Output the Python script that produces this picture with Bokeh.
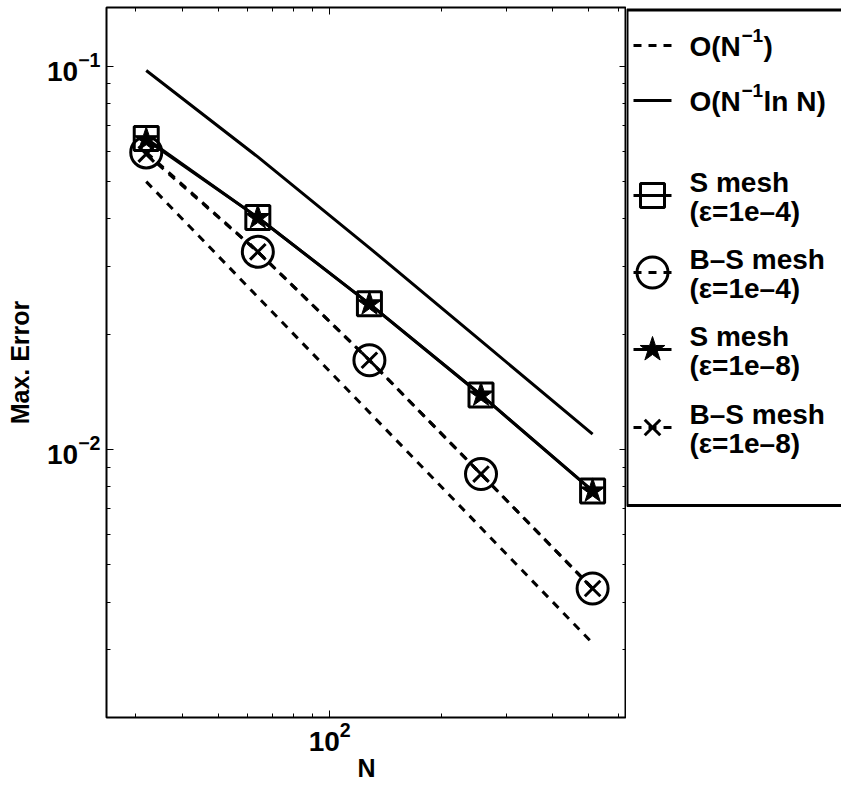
from bokeh.plotting import figure
from bokeh.models import Range1d, FixedTicker, LogAxis, LogTickFormatter
from bokeh.layouts import row
from bokeh.embed import file_html
from bokeh.resources import INLINE
from bokeh.core.properties import value

# ---------------- data ----------------
N = [32, 64, 128, 256, 512]
order_n1 = [0.05, 0.025, 0.0125, 0.00625, 0.003125]
order_nlnn = [0.0975, 0.0580, 0.0336, 0.0192, 0.01097]
s_mesh_e4 = [0.0648, 0.0403, 0.0240, 0.01388, 0.0078]
bs_mesh_e4 = [0.0596, 0.0328, 0.0171, 0.00863, 0.00434]
s_mesh_e8 = [0.0643, 0.0403, 0.0240, 0.01388, 0.0078]
bs_mesh_e8 = [0.0590, 0.0328, 0.0171, 0.00863, 0.00434]

x_major = [100]
x_minor = [30, 40, 50, 60, 70, 80, 90, 200, 300, 400, 500, 600]
y_major = [0.01, 0.1]
y_minor = [0.003, 0.004, 0.005, 0.006, 0.007, 0.008, 0.009,
           0.02, 0.03, 0.04, 0.05, 0.06, 0.07, 0.08, 0.09]

x_title = "N"
y_title = "Max. Error"

legend_lines = [
    ["O(N", "ln N)"],
    ["S mesh", "(\u03b5=1e\u20134)"],
    ["B\u2013S mesh", "(\u03b5=1e\u20134)"],
    ["S mesh", "(\u03b5=1e\u20138)"],
    ["B\u2013S mesh", "(\u03b5=1e\u20138)"],
]

FONT = "Liberation Sans"
DASH = "8 7"
X_LO, X_HI = 25, 632
Y_LO, Y_HI = 0.002, 0.1423

# ---------------- main plot ----------------
p1 = figure(x_axis_type="log", y_axis_type="log",
            x_range=Range1d(X_LO, X_HI), y_range=Range1d(Y_LO, Y_HI),
            frame_width=520, frame_height=710,
            min_border_left=106, min_border_right=0,
            min_border_top=7, min_border_bottom=69,
            toolbar_location=None, output_backend="svg",
            background_fill_color="white", border_fill_color="white",
            outline_line_color="black", outline_line_width=2)
p1.grid.visible = False


def style_axis(ax, ticks, minor, labels=True):
    ax.ticker = FixedTicker(ticks=ticks, minor_ticks=minor)
    ax.axis_line_color = None
    ax.major_tick_in = 7
    ax.major_tick_out = 0
    ax.minor_tick_in = 4
    ax.minor_tick_out = 0
    ax.major_tick_line_color = "black"
    ax.minor_tick_line_color = "black"
    ax.major_tick_line_width = 1
    ax.minor_tick_line_width = 1
    if labels:
        ax.formatter = LogTickFormatter()
        ax.major_label_text_font = FONT
        ax.major_label_text_font_style = "bold"
        ax.major_label_text_font_size = "28px"
        ax.major_label_text_color = "black"
        ax.axis_label_text_font = FONT
        ax.axis_label_text_font_style = "bold"
        ax.axis_label_text_font_size = "25px"
        ax.axis_label_text_color = "black"
    else:
        ax.major_label_text_font_size = "1px"
        ax.major_label_text_color = None
        ax.major_label_standoff = 0


xa = p1.xaxis[0]
ya = p1.yaxis[0]
style_axis(xa, x_major, x_minor)
style_axis(ya, y_major, y_minor)
xa.axis_label = x_title
ya.axis_label = y_title
xa.major_label_standoff = 4
xa.axis_label_standoff = 0
ya.major_label_standoff = 6
ya.axis_label_standoff = 10

ra = LogAxis()
style_axis(ra, y_major, y_minor, labels=False)
p1.add_layout(ra, "right")
ta = LogAxis()
style_axis(ta, x_major, x_minor, labels=False)
p1.add_layout(ta, "above")

LW = 3
p1.line(N, order_n1, line_color="black", line_width=LW, line_dash=DASH)
p1.line(N, order_nlnn, line_color="black", line_width=LW)
p1.line(N, s_mesh_e4, line_color="black", line_width=LW)
p1.scatter(N, s_mesh_e4, marker="square", size=24, fill_color=None,
           line_color="black", line_width=LW)
p1.line(N, bs_mesh_e4, line_color="black", line_width=LW, line_dash=DASH)
p1.scatter(N, bs_mesh_e4, marker="circle", size=31, fill_color=None,
           line_color="black", line_width=LW)
p1.line(N, s_mesh_e8, line_color="black", line_width=LW)
p1.scatter(N, s_mesh_e8, marker="star", size=26, fill_color="black",
           line_color="black", line_width=1)
p1.line(N, bs_mesh_e8, line_color="black", line_width=LW, line_dash=DASH)
p1.scatter(N, bs_mesh_e8, marker="x", size=22, line_color="black",
           line_width=LW)

# ---------------- legend panel (page pixel coordinates) ----------------
# its frame is aligned with the main frame (page y 7..717)
X0 = 627
W2 = 215
p2 = figure(width=W2, frame_height=710, x_range=Range1d(X0, X0 + W2),
            y_range=Range1d(717, 7), min_border=0,
            min_border_top=7, min_border_bottom=69,
            x_axis_location=None, y_axis_location=None,
            toolbar_location=None, output_backend="svg",
            background_fill_color="white", border_fill_color="white",
            outline_line_color=None)
p2.grid.visible = False

p2.line([900, 627.5, 627.5, 900], [9.5, 9.5, 505, 505],
        line_color="black", line_width=3)

gx0, gx1, gxc = 634, 672, 653
p2.line([gx0, gx1], [45, 45], line_color="black", line_width=LW, line_dash=DASH)
p2.line([gx0, gx1], [100, 100], line_color="black", line_width=LW)
p2.line([gx0, gx1], [195, 195], line_color="black", line_width=LW)
p2.scatter([gxc], [195], marker="square", size=24, fill_color=None,
           line_color="black", line_width=LW)
p2.line([gx0, gx1], [272, 272], line_color="black", line_width=LW, line_dash=DASH)
p2.scatter([gxc], [272], marker="circle", size=31, fill_color=None,
           line_color="black", line_width=LW)
p2.line([gx0, gx1], [349, 349], line_color="black", line_width=LW)
p2.scatter([gxc], [349], marker="star", size=26, fill_color="black",
           line_color="black", line_width=1)
p2.line([gx0, gx1], [427, 427], line_color="black", line_width=LW, line_dash=DASH)
p2.scatter([gxc], [427], marker="x", size=22, line_color="black", line_width=LW)

TX = 690
main_txt = ["O(N", ")", legend_lines[0][0], legend_lines[0][1]]
main_x = [TX, TX + 74, TX, TX + 74]
main_y = [46, 46, 101, 101]
for k, (a, b) in enumerate(legend_lines[1:]):
    yc = [195, 272, 349, 427][k]
    main_txt += [a, b]
    main_x += [TX, TX]
    main_y += [yc - 13, yc + 16]
p2.text(x=main_x, y=main_y, text=main_txt, text_font=value(FONT),
        text_font_style="bold", text_font_size="28px", text_baseline="middle",
        text_align="left", text_color="black")
p2.text(x=[TX + 52, TX + 52], y=[35, 90], text=["\u22121", "\u22121"],
        text_font=value(FONT), text_font_style="bold", text_font_size="19px",
        text_baseline="middle", text_align="left", text_color="black")

layout = row(p1, p2)
open("out.html", "w").write(file_html(layout, INLINE))
